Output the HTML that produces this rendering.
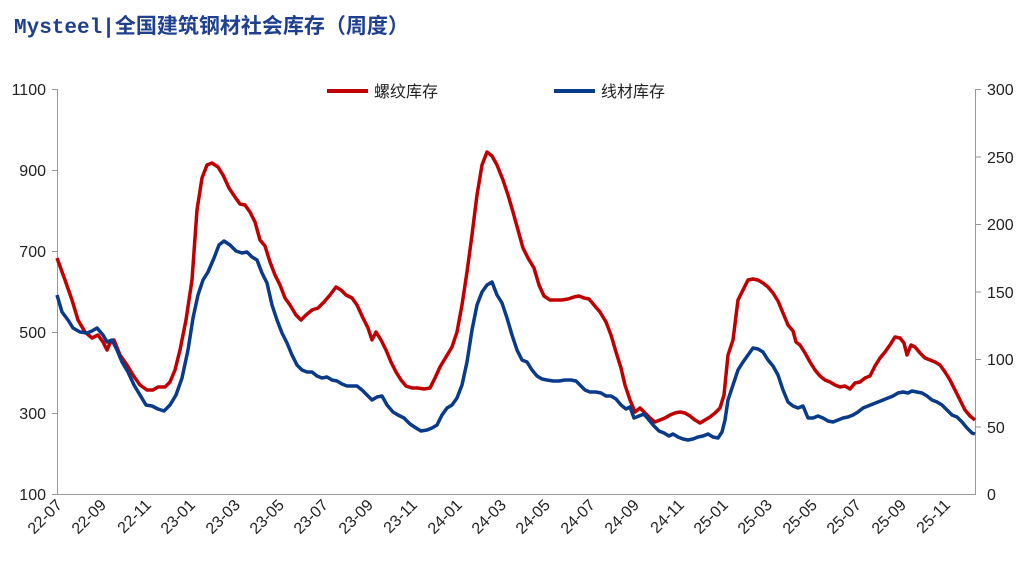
<!DOCTYPE html>
<html><head><meta charset="utf-8"><style>
body{margin:0;background:#fff;}
svg{display:block;font-family:"Liberation Sans","Noto Sans CJK SC",sans-serif;}
</style></head><body>
<svg width="1032" height="567" viewBox="0 0 1032 567">
<text x="14" y="33" font-size="21" font-weight="bold" fill="#1f3f8f" font-family="'Liberation Mono','Noto Sans CJK SC',monospace">Mysteel|全国建筑钢材社会库存（周度）</text>
<g stroke="#999" stroke-width="1" fill="none">
<line x1="57.5" y1="89" x2="57.5" y2="494"/>
<line x1="975.5" y1="89" x2="975.5" y2="494"/>
<line x1="57" y1="494.5" x2="976" y2="494.5"/>
</g>
<g stroke="#999" stroke-width="1">
<line x1="52" y1="89.5" x2="57" y2="89.5"/><line x1="52" y1="170.5" x2="57" y2="170.5"/><line x1="52" y1="251.5" x2="57" y2="251.5"/><line x1="52" y1="332.5" x2="57" y2="332.5"/><line x1="52" y1="413.5" x2="57" y2="413.5"/><line x1="52" y1="494.5" x2="57" y2="494.5"/>
<line x1="976" y1="89.5" x2="981" y2="89.5"/><line x1="976" y1="157" x2="981" y2="157"/><line x1="976" y1="224.5" x2="981" y2="224.5"/><line x1="976" y1="292" x2="981" y2="292"/><line x1="976" y1="359.5" x2="981" y2="359.5"/><line x1="976" y1="427" x2="981" y2="427"/>
</g>
<g font-size="16" fill="#222" text-anchor="end">
<text x="46" y="95">1100</text><text x="46" y="176">900</text><text x="46" y="257">700</text><text x="46" y="338">500</text><text x="46" y="419">300</text><text x="46" y="500">100</text>
</g>
<g font-size="16" fill="#222" text-anchor="start">
<text x="987" y="95">300</text><text x="987" y="163">250</text><text x="987" y="230">200</text><text x="987" y="298">150</text><text x="987" y="365">100</text><text x="987" y="433">50</text><text x="987" y="500">0</text>
</g>
<g font-size="16" fill="#222" text-anchor="end">
<text transform="translate(63,506) rotate(-45)">22-07</text>
<text transform="translate(107,506) rotate(-45)">22-09</text>
<text transform="translate(152,506) rotate(-45)">22-11</text>
<text transform="translate(196,506) rotate(-45)">23-01</text>
<text transform="translate(241,506) rotate(-45)">23-03</text>
<text transform="translate(285,506) rotate(-45)">23-05</text>
<text transform="translate(329,506) rotate(-45)">23-07</text>
<text transform="translate(374,506) rotate(-45)">23-09</text>
<text transform="translate(418,506) rotate(-45)">23-11</text>
<text transform="translate(463,506) rotate(-45)">24-01</text>
<text transform="translate(507,506) rotate(-45)">24-03</text>
<text transform="translate(551,506) rotate(-45)">24-05</text>
<text transform="translate(596,506) rotate(-45)">24-07</text>
<text transform="translate(640,506) rotate(-45)">24-09</text>
<text transform="translate(685,506) rotate(-45)">24-11</text>
<text transform="translate(729,506) rotate(-45)">25-01</text>
<text transform="translate(773,506) rotate(-45)">25-03</text>
<text transform="translate(818,506) rotate(-45)">25-05</text>
<text transform="translate(862,506) rotate(-45)">25-07</text>
<text transform="translate(907,506) rotate(-45)">25-09</text>
<text transform="translate(951,506) rotate(-45)">25-11</text>
</g>
<line x1="327" y1="91" x2="368" y2="91" stroke="#c00000" stroke-width="4"/>
<text x="374" y="97" font-size="16" fill="#222">螺纹库存</text>
<line x1="554" y1="91" x2="595" y2="91" stroke="#0a3a8a" stroke-width="4"/>
<text x="601" y="97" font-size="16" fill="#222">线材库存</text>
<polyline fill="none" stroke="#c00000" stroke-width="3.5" stroke-linejoin="round" points="57,258 65,280 72,300 78,320 85,332 92,338 98,335 103,342 107,350 110,343 114,340 120,355 127,365 133,375 140,385 147,390 153,390 158,387 165,387 170,382 175,370 180,350 186,320 192,280 197,210 202,178 207,165 212,163 218,167 223,175 229,188 235,197 240,204 245,205 250,212 255,222 260,240 265,246 270,262 275,275 280,285 285,298 290,305 296,315 301,320 306,315 312,310 318,308 324,302 330,295 336,287 341,290 346,295 352,298 357,305 363,318 368,328 372,340 376,332 381,340 386,350 391,362 396,372 401,380 406,386 412,388 418,388 424,389 430,388 435,378 440,367 446,357 452,347 457,332 462,305 467,272 472,235 477,195 482,165 487,152 492,156 497,165 503,180 508,195 513,212 518,230 523,248 528,258 534,268 539,285 544,296 550,300 556,300 562,300 568,299 574,297 579,296 584,298 589,299 594,305 600,312 606,322 611,335 616,352 621,368 625,385 630,400 635,412 640,408 645,413 650,418 655,422 660,420 665,418 670,415 675,413 680,412 685,413 690,416 695,420 700,423 705,420 710,417 715,413 720,408 724,395 728,355 733,340 738,300 743,290 748,280 753,279 758,280 763,283 768,287 773,293 778,301 783,313 788,325 793,331 796,342 800,345 805,353 810,362 815,370 820,376 825,380 830,382 835,385 840,387 845,386 850,389 855,383 860,382 865,378 870,376 875,366 880,358 885,352 890,345 895,337 900,338 904,343 907,355 911,345 915,347 920,353 925,358 930,360 935,362 940,365 945,372 950,380 955,390 960,400 965,410 970,416 975,420"/>
<polyline fill="none" stroke="#0a3a8a" stroke-width="3.5" stroke-linejoin="round" points="57,295 62,312 68,320 73,328 80,332 87,333 92,331 97,328 103,335 107,342 112,340 117,350 122,362 128,372 134,385 140,395 146,405 152,406 158,409 164,411 170,405 176,395 182,378 188,350 193,318 198,295 203,280 208,272 214,258 219,245 224,241 230,245 236,251 242,253 247,252 252,257 257,260 262,273 267,283 272,305 277,320 282,333 287,343 292,355 297,365 302,370 307,372 312,372 317,376 322,378 327,377 332,380 337,381 342,384 347,386 352,386 357,386 362,390 367,395 372,400 377,397 382,396 387,405 393,412 398,415 404,418 410,424 416,428 421,431 427,430 432,428 437,425 442,415 447,408 452,405 457,398 462,385 467,362 472,330 477,305 482,292 487,285 492,282 497,295 502,303 507,318 512,335 517,350 522,360 527,362 532,370 537,376 542,379 547,380 553,381 559,381 565,380 571,380 576,381 580,385 585,390 590,392 596,392 601,393 606,396 611,396 616,399 621,405 626,409 630,407 634,418 639,416 644,414 649,420 654,426 659,431 664,433 669,436 673,434 678,437 683,439 688,440 693,439 698,437 703,436 708,434 713,437 718,438 722,432 725,420 728,400 733,385 738,370 743,362 748,355 753,348 758,349 763,352 768,360 773,366 778,375 783,390 788,402 793,406 798,408 803,406 808,418 813,418 818,416 823,418 828,421 833,422 838,420 843,418 848,417 853,415 858,412 863,408 868,406 873,404 878,402 883,400 888,398 893,396 898,393 903,392 908,393 912,391 917,392 922,393 927,396 932,400 937,402 942,405 947,410 952,415 957,417 962,422 967,428 972,433 975,434"/>
</svg>
</body></html>
